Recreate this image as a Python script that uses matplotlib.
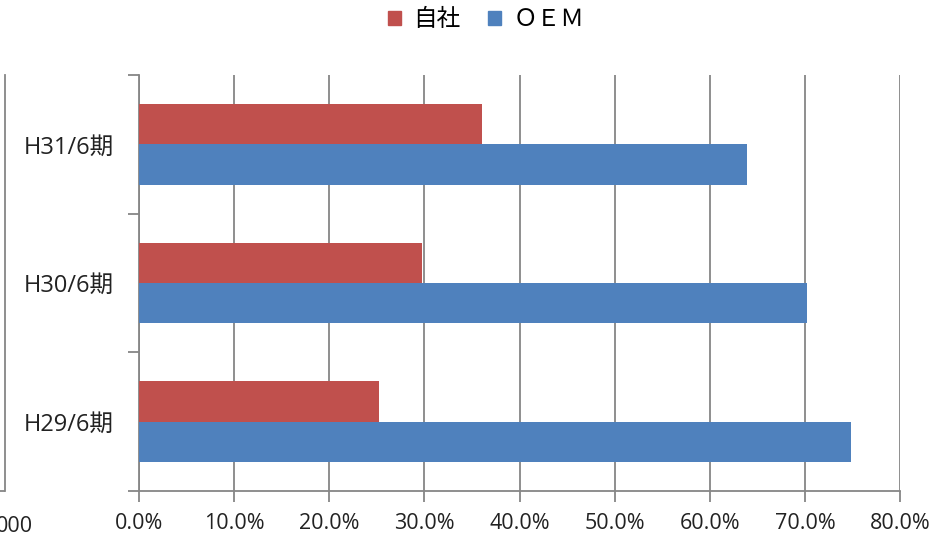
import numpy as np
import matplotlib.pyplot as plt
from matplotlib.patches import Patch

plt.rcParams['font.family'] = ['Open Sans', 'Noto Sans CJK JP', 'DejaVu Sans']

# data
periods = ["H29/6期", "H30/6期", "H31/6期"]
own = [25.2, 29.8, 36.1]      # 自社
oem = [74.8, 70.2, 63.9]      # ＯＥＭ
series_names = ["自社", "ＯＥＭ"]
xticks = [0, 10, 20, 30, 40, 50, 60, 70, 80]

red = "#C0504D"
blue = "#4F81BD"
grid = "#868686"
txt = "#222222"

fig = plt.figure(figsize=(9.51, 5.39), dpi=100)
ax = fig.add_axes([139/951, 1-491/539, 761/951, 416/539])

y = np.arange(len(periods))
h = 0.29
ax.barh(y + h/2, own, height=h, color=red, zorder=3)
ax.barh(y - h/2, oem, height=h, color=blue, zorder=3)

ax.set_xlim(0, 80)
ax.set_ylim(-0.5, 2.5)
ax.set_xticks(xticks)
ax.set_xticklabels([f"{v:.1f}%" for v in xticks], fontsize=15.5, color=txt)
ax.xaxis.grid(True, color=grid, linewidth=1.3, zorder=0)
ax.tick_params(axis="x", length=8, width=1.3, color=grid, pad=8)

ax.set_yticks([-0.5, 0.5, 1.5, 2.5])
ax.set_yticklabels([])
ax.set_yticks(y, minor=True)
ax.set_yticklabels(periods, minor=True, fontsize=17, color=txt)
ax.tick_params(axis="y", which="major", length=8, width=1.3, color=grid)
ax.tick_params(axis="y", which="minor", length=0, pad=18)

for s in ["top", "right"]:
    ax.spines[s].set_visible(False)
for s in ["left", "bottom"]:
    ax.spines[s].set_color(grid)
    ax.spines[s].set_linewidth(1.3)

# leftover axis from a neighbouring chart
ax2 = fig.add_axes([5/951, 1-491/539, 0.001, 416/539])
ax2.set_xticks([])
ax2.set_yticks([0])
ax2.set_yticklabels([])
ax2.set_ylim(0, 1)
ax2.tick_params(axis="y", length=6, width=1.3, color=grid)
for s in ["top", "right", "bottom"]:
    ax2.spines[s].set_visible(False)
ax2.spines["left"].set_color(grid)
ax2.spines["left"].set_linewidth(1.3)
ax2.patch.set_visible(False)
fig.text(33/951, 1-526/539, "000", ha="right", va="center", fontsize=15.5, color=txt)

handles = [Patch(color=red), Patch(color=blue)]
fig.legend(handles, series_names, loc="center", bbox_to_anchor=(486/951, 1-20/539),
           ncol=2, frameon=False, fontsize=17, handlelength=0.55, handleheight=0.55,
           handletextpad=0.5, columnspacing=1.2)

fig.savefig("out.png", dpi=100)
